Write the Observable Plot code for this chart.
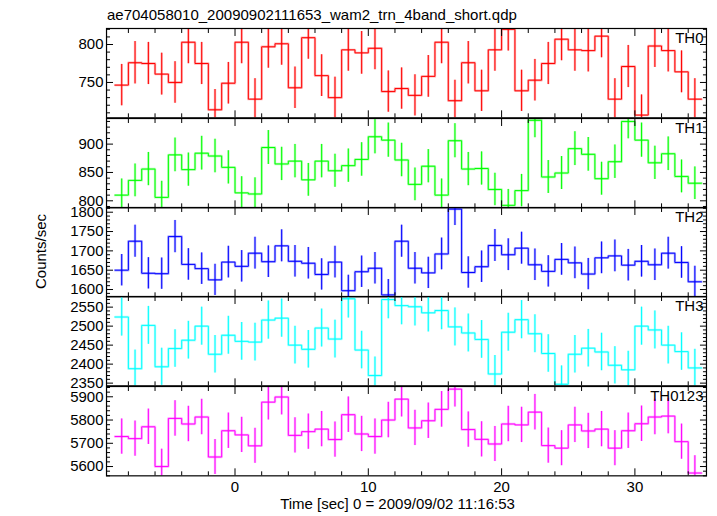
<!DOCTYPE html>
<html><head><meta charset="utf-8">
<script src="https://cdn.jsdelivr.net/npm/d3@7"></script>
<script src="https://cdn.jsdelivr.net/npm/@observablehq/plot@0.6"></script>
<style>
html,body{margin:0;padding:0;background:#fff;}
#chart{position:relative;width:717px;height:516px;overflow:hidden;background:#fff;font-family:"Liberation Sans",Arial,Helvetica,sans-serif;}
#chart svg{position:absolute;left:0;}
</style></head><body><div id="chart"></div>
<script>
// ---- data (bin centres, 1 s bins) ----
const times = [-8.5,-7.5,-6.5,-5.5,-4.5,-3.5,-2.5,-1.5,-0.5,0.5,1.5,2.5,3.5,4.5,5.5,6.5,7.5,8.5,9.5,10.5,11.5,12.5,13.5,14.5,15.5,16.5,17.5,18.5,19.5,20.5,21.5,22.5,23.5,24.5,25.5,26.5,27.5,28.5,29.5,30.5,31.5,32.5,33.5,34.5];
const binWidth = 1;

const th0 = [746.5,776,775,761,750,803,775,714,749,803,728,797,801,743,809,759,730,793,789,795,738,742,733,758,803,726,776,739,793,820,739,753,775,807,793,792,811,728,771,707,798,792,764,728];
const th0Err = [27.3,27.9,27.8,27.6,27.4,28.3,27.8,26.7,27.4,28.3,27.0,28.2,28.3,27.3,28.4,27.5,27.0,28.2,28.1,28.2,27.2,27.2,27.1,27.5,28.3,26.9,27.9,27.2,28.2,28.6,27.2,27.4,27.8,28.4,28.2,28.1,28.5,27.0,27.8,26.6,28.2,28.1,27.6,27.0];

const th1 = [810,836,856,806,881,855,884,879,859,814,812,894,865,870,837,870,853,862,873,913,907,872,829,861,810,906,856,857,820,792,818,942,842,849,892,882,839,869,940,907,867,883,843,831];
const th1Err = [28.5,28.9,29.3,28.4,29.7,29.2,29.7,29.6,29.3,28.5,28.5,29.9,29.4,29.5,28.9,29.5,29.2,29.4,29.5,30.2,30.1,29.5,28.8,29.3,28.5,30.1,29.3,29.3,28.6,28.1,28.6,30.7,29.0,29.1,29.9,29.7,29.0,29.5,30.7,30.1,29.4,29.7,29.0,28.8];

const th2 = [1650,1725,1642,1641,1737,1665,1654,1625,1671,1660,1694,1672,1713,1673,1668,1639,1671,1597,1646,1655,1586,1725,1655,1643,1692,1808,1644,1659,1714,1690,1707,1664,1647,1678,1669,1640,1682,1687,1663,1673,1664,1694,1670,1620];
const th2Err = [40.6,41.5,40.5,40.5,41.7,40.8,40.7,40.3,40.9,40.7,41.2,40.9,41.4,40.9,40.8,40.5,40.9,40.0,40.6,40.7,39.8,41.5,40.7,40.5,41.1,42.5,40.5,40.7,41.4,41.1,41.3,40.8,40.6,41.0,40.9,40.5,41.0,41.1,40.8,40.9,40.8,41.2,40.9,40.2];

const th3 = [2524,2388,2502,2393,2441,2463,2500,2426,2476,2460,2458,2516,2521,2450,2439,2495,2466,2572,2437,2370,2570,2554,2551,2535,2541,2498,2482,2465,2374,2484,2517,2480,2428,2347,2426,2442,2432,2397,2385,2500,2490,2450,2433,2390];
const th3Err = [50.2,48.9,50.0,48.9,49.4,49.6,50.0,49.3,49.8,49.6,49.6,50.2,50.2,49.5,49.4,49.9,49.7,50.7,49.4,48.7,50.7,50.5,50.5,50.3,50.4,50.0,49.8,49.6,48.7,49.8,50.2,49.8,49.3,48.4,49.3,49.4,49.3,49.0,48.8,50.0,49.9,49.5,49.3,48.9];

const th0123 = [5729,5720,5771,5600,5807,5783,5813,5641,5754,5736,5689,5877,5899,5734,5750,5761,5716,5823,5740,5729,5800,5890,5766,5797,5846,5933,5759,5717,5697,5783,5779,5834,5690,5679,5779,5753,5761,5679,5754,5784,5813,5817,5707,5572];
const th0123Err = [75.7,75.6,76.0,74.8,76.2,76.0,76.2,75.1,75.9,75.7,75.4,76.7,76.8,75.7,75.8,75.9,75.6,76.3,75.8,75.7,76.2,76.7,75.9,76.1,76.5,77.0,75.9,75.6,75.5,76.0,76.0,76.4,75.4,75.4,76.0,75.8,75.9,75.4,75.9,76.1,76.2,76.3,75.5,74.6];

const panelNames = ["TH0","TH1","TH2","TH3","TH0123"];
const panelColors = ["#ff0000","#00ff00","#0000ff","#00ffff","#ff00ff"];
const yDomains = [[703.4,821.1],[787.6,945.2],[1581.1,1812.2],[2342.9,2578],[5560,5944.3]];
const yMajorTicks = [[750,800],[800,850,900],[1600,1650,1700,1750,1800],[2350,2400,2450,2500,2550],[5600,5700,5800,5900]];
const yMinorStep = [10,10,10,10,20];
const xDomain = [-9.64, 35.37];
const xMajorTicks = [0,10,20,30];
const xMinorTicks = [-8,-6,-4,-2,2,4,6,8,12,14,16,18,22,24,26,28,32,34];
const titleText = "ae704058010_20090902111653_wam2_trn_4band_short.qdp";
const xLabelText = "Time [sec] 0 = 2009/09/02 11:16:53";
const yLabelText = "Counts/sec";

const series = [[th0,th0Err],[th1,th1Err],[th2,th2Err],[th3,th3Err],[th0123,th0123Err]];

// ---- layout ----
const W = 717, H = 516;
const frameLeft = 106, frameRight = 706;
const panelTop0 = 28.3, panelH = 89.34;
const FONT = "'Liberation Sans', Arial, Helvetica, sans-serif";
const chart = document.getElementById("chart");

series.forEach(([vals, errs], i) => {
  const last = i === series.length - 1;
  const color = panelColors[i];
  const rows = times.map((t, j) => ({t, v: vals[j], e: errs[j]}));
  const steps = rows.map(d => ({x: d.t - binWidth / 2, y: d.v}));
  steps.push({x: rows[rows.length - 1].t + binWidth / 2, y: rows[rows.length - 1].v});
  const [y0, y1] = yDomains[i];
  const minor = d3.range(Math.ceil(y0 / yMinorStep[i]) * yMinorStep[i], y1, yMinorStep[i]).filter(v => !yMajorTicks[i].includes(v));
  const mt = 20, mb = last ? 45 : 20;
  const svg = Plot.plot({
    width: W,
    height: panelH + mt + mb,
    marginLeft: frameLeft,
    marginRight: W - frameRight,
    marginTop: mt,
    marginBottom: mb,
    style: {background: "transparent", overflow: "visible", fontFamily: FONT, fontSize: "15px", color: "black"},
    x: {domain: xDomain},
    y: {domain: yDomains[i]},
    marks: [
      Plot.ruleX(rows, {x: "t", y1: d => d.v - d.e, y2: d => d.v + d.e, stroke: color, strokeWidth: 2.4, strokeOpacity: 0.3, clip: true}),
      Plot.line(steps, {x: "x", y: "y", curve: "step-after", stroke: color, strokeWidth: 2.4, strokeOpacity: 0.3, clip: true}),
      Plot.ruleX(rows, {x: "t", y1: d => d.v - d.e, y2: d => d.v + d.e, stroke: color, strokeWidth: 1, clip: true}),
      Plot.line(steps, {x: "x", y: "y", curve: "step-after", stroke: color, strokeWidth: 1, clip: true}),
      Plot.axisY(yMajorTicks[i], {anchor: "left", tickSize: -7, tickPadding: 10, tickFormat: "d", label: null, fontSize: 15}),
      Plot.axisY(minor, {anchor: "left", tickSize: -4, fill: "none", label: null}),
      Plot.axisY(yMajorTicks[i], {anchor: "right", tickSize: -7, fill: "none", label: null}),
      Plot.axisY(minor, {anchor: "right", tickSize: -4, fill: "none", label: null}),
      Plot.axisX(xMajorTicks, {anchor: "top", tickSize: -7, fill: "none", label: null}),
      Plot.axisX(xMinorTicks, {anchor: "top", tickSize: -4, fill: "none", label: null}),
      last
        ? Plot.axisX(xMajorTicks, {anchor: "bottom", tickSize: -7, tickPadding: 13, tickFormat: "d", label: null, fontSize: 15})
        : Plot.axisX(xMajorTicks, {anchor: "bottom", tickSize: -7, fill: "none", label: null}),
      Plot.axisX(xMinorTicks, {anchor: "bottom", tickSize: -4, fill: "none", label: null}),
      Plot.frame({stroke: "black", strokeWidth: 1.2}),
      Plot.text([panelNames[i]], {text: d => d, frameAnchor: "top-right", textAnchor: "end", lineAnchor: "top", dx: -3, dy: 3.5, fontSize: 15, fill: "black"})
    ]
  });
  svg.style.top = (panelTop0 + i * panelH - mt) + "px";
  chart.appendChild(svg);
});

// ---- title and axis labels ----
const overlay = d3.create("svg").attr("width", W).attr("height", H)
  .style("top", "0px").style("pointer-events", "none")
  .attr("font-family", FONT).attr("font-size", 15).attr("fill", "black");
overlay.append("text").attr("x", 107).attr("y", 20).text(titleText);
overlay.append("text").attr("x", 397.5).attr("y", 508.5).attr("text-anchor", "middle").text(xLabelText);
overlay.append("text").attr("transform", "translate(45.5,251.5) rotate(-90)").attr("text-anchor", "middle").text(yLabelText);
chart.appendChild(overlay.node());
</script></body></html>
